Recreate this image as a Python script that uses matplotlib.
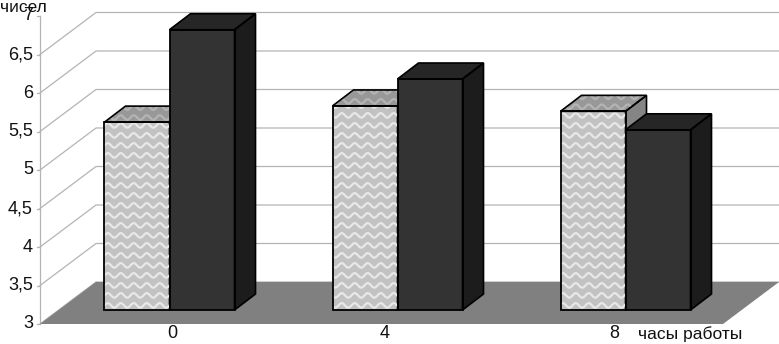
import matplotlib
matplotlib.use('Agg')
import matplotlib.pyplot as plt
import numpy as np
from matplotlib.patches import Polygon, Rectangle

categories = ['0', '4', '8']
light_values = [5.44, 5.65, 5.58]
dark_values = [6.64, 6.0, 5.34]
y_ticks = [3, 3.5, 4, 4.5, 5, 5.5, 6, 6.5, 7]
y_labels = ['3', '3,5', '4', '4,5', '5', '5,5', '6', '6,5', '7']

plt.rcParams['font.family'] = ['Liberation Sans', 'DejaVu Sans']

W, H = 779, 344
PX_X = 228.0   # pixels per category
PX_Y = 77.0    # pixels per y unit
dx = 1 / PX_X
dy = 1 / PX_Y

fig = plt.figure(figsize=(W / 100, H / 100), dpi=100)
ax = fig.add_axes([0, 0, 1, 1])
ax.set_xlim(-169.5 * dx, (W - 169.5) * dx)
ax.set_ylim(3 - 20 * dy, 3 + 324 * dy)
ax.axis('off')

left_wall = -129.5 * dx      # x of the front axis
floor_dx = 56 * dx
floor_dy = 42 * dy
right_end = ax.get_xlim()[1]

# floor
ax.add_patch(Polygon([(left_wall, 3), (left_wall + floor_dx, 3 + floor_dy),
                      (right_end, 3 + floor_dy), (right_end - floor_dx, 3)],
                     closed=True, fc='#808080', ec='none', zorder=1))

# walls and grid
grid_c = '#b4b4b4'
for t in y_ticks[:-1]:
    ax.plot([left_wall, left_wall + floor_dx, right_end],
            [t, t + floor_dy, t + floor_dy], color=grid_c, lw=0.9, zorder=0.5)
ax.plot([left_wall, left_wall], [3, 7], color=grid_c, lw=0.9, zorder=0.5)
for t, lab in zip(y_ticks, y_labels):
    ax.plot([left_wall - 3 * dx, left_wall], [t, t], color=grid_c, lw=0.9, zorder=0.5)
    ax.text(left_wall - 7 * dx, t, lab, ha='right', va='center', fontsize=13, color='#111111', zorder=6)

# bars, values are measured from the bar foot which sits in front of the back wall
bar_w = 65 * dx
bar_dx = 21 * dx
bar_dy = 16 * dy
base = 3 + 14 * dy


def waves(x0, x1, y0, y1, clip, zorder, color):
    # wavy fill pattern
    xs = np.linspace(x0 - 0.05, x1 + 0.05, 200)
    for yy in np.arange(y0 - 0.2, y1 + 0.2, 10 * dy):
        ln, = ax.plot(xs, yy + 2.3 * dy * np.sin(xs / (13 * dx) * 2 * np.pi),
                      color=color, lw=1.6, zorder=zorder)
        ln.set_clip_path(clip)


def bar(xl, v, front, top, side, hatched, z):
    xr = xl + bar_w
    ytop = v + (base - 3)
    r = Rectangle((xl, base), bar_w, ytop - base, fc=front, ec='none', zorder=z)
    ax.add_patch(r)
    tp = Polygon([(xl, ytop), (xl + bar_dx, ytop + bar_dy), (xr + bar_dx, ytop + bar_dy), (xr, ytop)],
                 closed=True, fc=top, ec='none', zorder=z)
    ax.add_patch(tp)
    sd = Polygon([(xr, base), (xr + bar_dx, base + bar_dy), (xr + bar_dx, ytop + bar_dy), (xr, ytop)],
                 closed=True, fc=side, ec='black', lw=1.2, zorder=z)
    ax.add_patch(sd)
    if hatched:
        waves(xl, xr, base, ytop, r, z + 0.1, '#e8e8e8')
        waves(xl, xr + bar_dx, ytop, ytop + bar_dy, tp, z + 0.1, '#b4b4b4')
    ax.add_patch(Rectangle((xl, base), bar_w, ytop - base, fc='none', ec='black', lw=1.3, zorder=z + 0.2))
    ax.add_patch(Polygon(tp.get_xy(), closed=True, fc='none', ec='black', lw=1.2, zorder=z + 0.2))


for i in range(len(categories)):
    bar(i - bar_w, light_values[i], '#c2c2c2', '#989898', '#858585', True, 2)
    bar(i, dark_values[i], '#333333', '#262626', '#1c1c1c', False, 3)

# axis labels
label_x = [2.5, 215.5, 444.5]
for lab, lx in zip(categories, label_x):
    ax.text(lx * dx, 3 - 9.5 * dy, lab, ha='center', va='center', fontsize=13, color='#111111')
ax.text(469 * dx, 3 - 10 * dy, 'часы работы', ha='left', va='center', fontsize=12.5, color='#111111')
ax.text(-169.5 * dx, 3 + 317 * dy, 'чисел', ha='left', va='center', fontsize=12.5, color='#111111')

fig.savefig('out.png', dpi=100)
